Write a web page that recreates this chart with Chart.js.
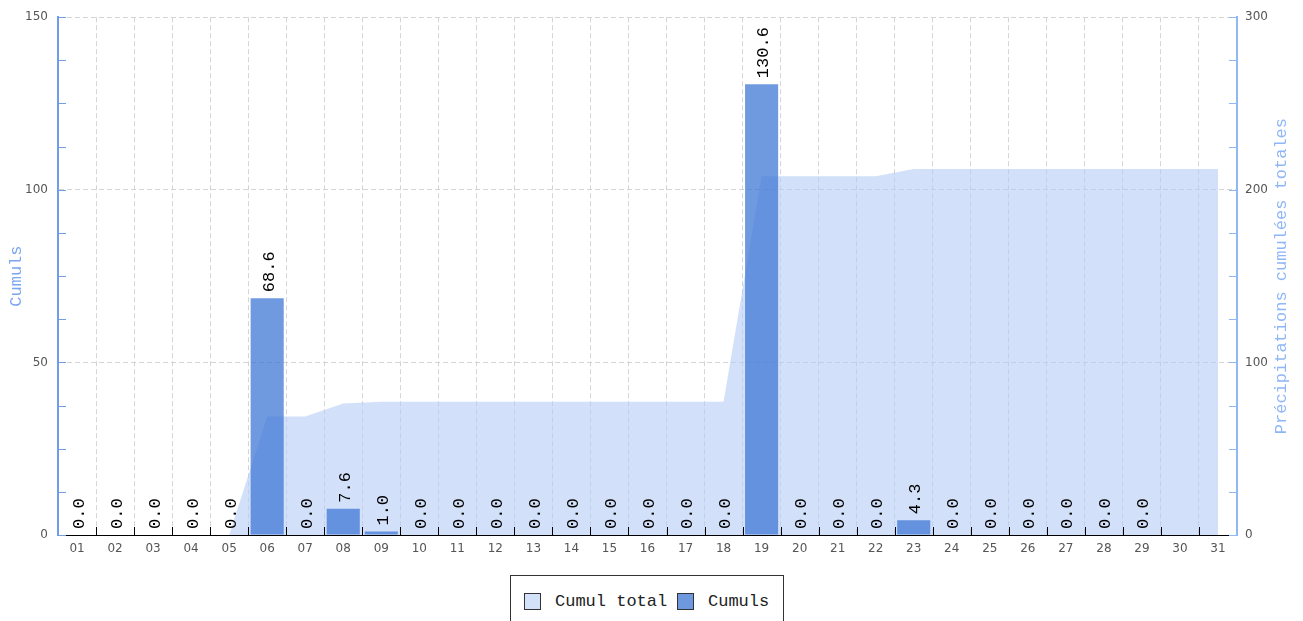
<!DOCTYPE html>
<html>
<head>
<meta charset="utf-8">
<script src="https://cdn.jsdelivr.net/npm/chart.js@4.4.1/dist/chart.umd.min.js"></script>
<style>
  html, body { margin: 0; padding: 0; background: #fff; }
  #wrap { position: relative; width: 1303px; height: 621px; overflow: hidden; }
  #legend {
    position: absolute; left: 510px; top: 575px; width: 272px; height: 52px;
    border: 1px solid #333; background: #fff;
    font: 17px "Liberation Mono", monospace; color: #222;
  }
  .item { position: absolute; top: 16px; height: 18px; display: flex; align-items: center; }
  .sw { width: 15px; height: 15px; border: 1px solid #333; margin-right: 14px; }
</style>
</head>
<body>
<div id="wrap">
  <canvas id="chart" width="1303" height="621"></canvas>
  <div id="legend">
    <div class="item" style="left:13px"><span class="sw" style="background:#d3e1f9"></span>Cumul total</div>
    <div class="item" style="left:166px"><span class="sw" style="background:#6f99df"></span>Cumuls</div>
  </div>
</div>
<script>
// day labels
const days = ['01','02','03','04','05','06','07','08','09','10','11','12','13','14','15','16',
  '17','18','19','20','21','22','23','24','25','26','27','28','29','30','31'];

// daily rain (left axis), no value yet for 30 and 31
const dailyRain = [0, 0, 0, 0, 0, 68.6, 0, 7.6, 1.0, 0, 0, 0, 0, 0, 0, 0, 0, 0,
  130.6, 0, 0, 0, 4.3, 0, 0, 0, 0, 0, 0, null, null];

// running total (right axis)
const totalRain = [0, 0, 0, 0, 0, 68.6, 68.6, 76.2, 77.2, 77.2, 77.2, 77.2, 77.2, 77.2,
  77.2, 77.2, 77.2, 77.2, 207.8, 207.8, 207.8, 207.8, 212.1, 212.1, 212.1, 212.1, 212.1,
  212.1, 212.1, 212.1, 212.1];

// axis ranges
const leftMax = 150, leftStep = 12.5, leftLabelEvery = 50;
const rightMax = 300, rightStep = 25, rightLabelEvery = 100;

const monoFont = '17px "Liberation Mono", monospace';
const tickFont = { family: 'DejaVu Sans', size: 12 };
const gridGray = '#d4d4d4';
const leftBlue = '#6f9de8';
const rightBlue = '#8fb6f6';

// tick marks inside the plot, labels on bars, axis titles
const extras = {
  id: 'extras',
  afterDatasetsDraw(chart) {
    const { ctx, chartArea: a, scales } = chart;
    ctx.save();
    ctx.lineWidth = 1;

    const hLine = (x1, x2, y, color) => {
      ctx.strokeStyle = color;
      ctx.beginPath();
      ctx.moveTo(x1, Math.round(y) + 0.5);
      ctx.lineTo(x2, Math.round(y) + 0.5);
      ctx.stroke();
    };
    scales.y.ticks.forEach(t => hLine(a.left, a.left + 8, scales.y.getPixelForValue(t.value), leftBlue));
    scales.y2.ticks.forEach(t => hLine(a.right - 8, a.right, scales.y2.getPixelForValue(t.value), rightBlue));

    ctx.strokeStyle = '#000';
    for (let i = 1; i < days.length; i++) {
      const x = Math.round((scales.x.getPixelForValue(i - 1) + scales.x.getPixelForValue(i)) / 2) + 0.5;
      ctx.beginPath();
      ctx.moveTo(x, a.bottom - 8);
      ctx.lineTo(x, a.bottom);
      ctx.stroke();
    }

    // value labels above bars
    ctx.font = monoFont;
    ctx.fillStyle = '#000';
    ctx.textAlign = 'left';
    ctx.textBaseline = 'middle';
    chart.getDatasetMeta(0).data.forEach((bar, i) => {
      const v = dailyRain[i];
      if (v === null) return;
      ctx.save();
      ctx.translate(bar.x + 2, bar.y - 6);
      ctx.rotate(-Math.PI / 2);
      ctx.fillText(v.toFixed(1), 0, 0);
      ctx.restore();
    });

    // axis titles, both read bottom to top
    const midY = (a.top + a.bottom) / 2;
    const vTitle = (text, x, color) => {
      ctx.save();
      ctx.translate(x, midY);
      ctx.rotate(-Math.PI / 2);
      ctx.textAlign = 'center';
      ctx.fillStyle = color;
      ctx.fillText(text, 0, 0);
      ctx.restore();
    };
    vTitle('Cumuls', 16, '#7aa6f0');
    vTitle('Précipitations cumulées totales', 1281, '#8fb6f6');
    ctx.restore();
  }
};

const ctx = document.getElementById('chart').getContext('2d');
new Chart(ctx, {
  data: {
    labels: days,
    datasets: [
      {
        type: 'bar',
        label: 'Cumuls',
        data: dailyRain,
        yAxisID: 'y',
        backgroundColor: 'rgba(59,117,212,0.73)',
        barPercentage: 0.87,
        categoryPercentage: 1,
        order: 1
      },
      {
        type: 'line',
        label: 'Cumul total',
        data: totalRain,
        yAxisID: 'y2',
        fill: 'origin',
        backgroundColor: 'rgba(180,204,245,0.6)',
        borderWidth: 0,
        pointRadius: 0,
        tension: 0,
        order: 2
      }
    ]
  },
  options: {
    responsive: false,
    animation: false,
    layout: { padding: { top: 16 } },
    plugins: { legend: { display: false }, tooltip: { enabled: false } },
    scales: {
      x: {
        offset: true,
        grid: { offset: true, color: gridGray, drawTicks: false },
        border: { color: '#000', dash: [5, 3] },
        ticks: { color: '#555', font: tickFont, padding: 7, maxRotation: 0, autoSkip: false },
        afterFit: s => { s.height = 86; }
      },
      y: {
        position: 'left',
        min: 0,
        max: leftMax,
        grid: {
          drawTicks: false,
          color: c => (c.tick.value > 0 && c.tick.value % leftLabelEvery === 0) ? gridGray : 'rgba(0,0,0,0)'
        },
        border: { color: leftBlue, width: 2, dash: [5, 3] },
        ticks: {
          stepSize: leftStep,
          color: '#555',
          font: tickFont,
          padding: 10,
          callback: v => v % leftLabelEvery === 0 ? v : ''
        },
        afterFit: s => { s.width = 58; }
      },
      y2: {
        position: 'right',
        min: 0,
        max: rightMax,
        grid: { drawOnChartArea: false, drawTicks: false },
        border: { color: rightBlue, width: 2 },
        ticks: {
          stepSize: rightStep,
          color: '#555',
          font: tickFont,
          padding: 8,
          callback: v => v % rightLabelEvery === 0 ? v : ''
        },
        afterFit: s => { s.width = 66; }
      }
    }
  },
  plugins: [extras]
});
</script>
</body>
</html>
